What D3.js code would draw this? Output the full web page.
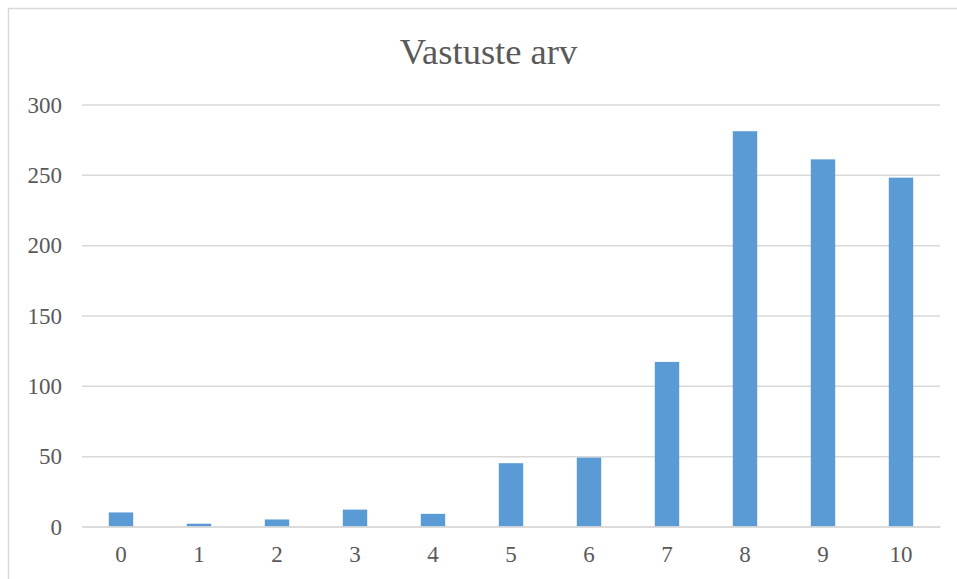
<!DOCTYPE html>
<html>
<head>
<meta charset="utf-8">
<script src="https://cdn.jsdelivr.net/npm/d3@7"></script>
<style>
  html, body { margin: 0; padding: 0; background: #fff; }
  svg { display: block; }
</style>
</head>
<body>
<svg id="chart" width="957" height="579"></svg>
<script>
// Answer counts per score (0..10)
const categories = ["0", "1", "2", "3", "4", "5", "6", "7", "8", "9", "10"];
const counts = [10, 2, 5, 12, 9, 45, 49, 117, 281, 261, 248];
const yTicks = [0, 50, 100, 150, 200, 250, 300];
const title = "Vastuste arv";

const W = 957, H = 579;
const margin = { left: 82, right: 17, top: 104.5, bottom: 52.5 };
const svg = d3.select("#chart");
const font = "'Liberation Serif', 'Times New Roman', serif";
const textColor = "#595959";

// chart frame
svg.append("rect")
  .attr("x", 8.5).attr("y", 8.5)
  .attr("width", W + 10).attr("height", H + 10)
  .attr("fill", "none").attr("stroke", "#d9d9d9").attr("stroke-width", 1.5);

const x = d3.scaleBand()
  .domain(categories)
  .range([margin.left, W - margin.right])
  .paddingInner(0.687)
  .paddingOuter(0.3435);

const y = d3.scaleLinear()
  .domain([0, 300])
  .range([H - margin.bottom, margin.top]);

// title
svg.append("text")
  .attr("x", 488.5).attr("y", 64)
  .attr("text-anchor", "middle")
  .attr("font-family", font)
  .attr("font-size", 36.5)
  .attr("fill", textColor)
  .text(title);

// horizontal gridlines with value labels
const yAxis = d3.axisLeft(y)
  .tickValues(yTicks)
  .tickSize(-(W - margin.right - margin.left))
  .tickPadding(20)
  .tickFormat(d3.format("d"));

const gy = svg.append("g")
  .attr("transform", `translate(${margin.left},0)`)
  .call(yAxis);
gy.select(".domain").remove();
gy.selectAll(".tick line")
  .attr("stroke", "#d9d9d9").attr("stroke-width", 1.5);
gy.selectAll(".tick text")
  .attr("font-family", font).attr("font-size", 23)
  .attr("fill", textColor).attr("dy", "0.33em");

// bars
svg.append("g").selectAll("rect")
  .data(counts)
  .join("rect")
  .attr("x", (d, i) => x(categories[i]))
  .attr("width", x.bandwidth())
  .attr("y", d => y(d))
  .attr("height", d => y(0) - y(d))
  .attr("fill", "#5b9bd5");

// category axis
const gx = svg.append("g")
  .attr("transform", `translate(0,${y(0)})`)
  .call(d3.axisBottom(x).tickSize(0).tickPadding(19));
gx.select(".domain")
  .attr("stroke", "#d9d9d9").attr("stroke-width", 1.5);
gx.selectAll(".tick text")
  .attr("font-family", font).attr("font-size", 23)
  .attr("fill", textColor).attr("dy", "0.71em");
</script>
</body>
</html>
